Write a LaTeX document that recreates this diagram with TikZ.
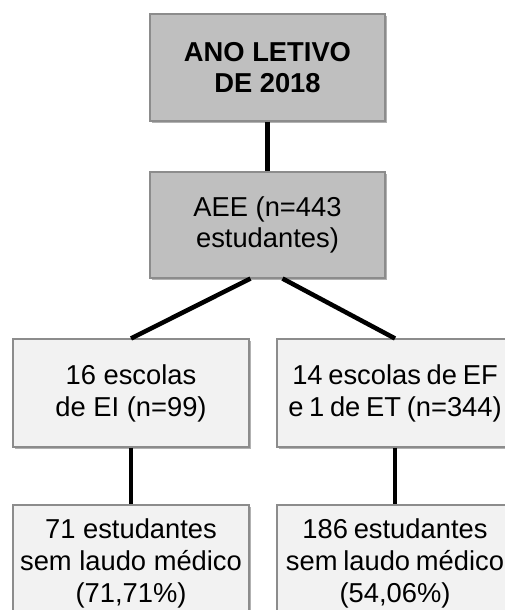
\documentclass[tikz,border=0pt]{standalone}
\usepackage{fontspec}
\setmainfont{Liberation Sans}
\newfontfamily\tightsans[WordSpace=0.75]{Liberation Sans}
\usetikzlibrary{shadows}
\definecolor{topfill}{HTML}{BFBFBF}
\definecolor{lowfill}{HTML}{F2F2F2}
\definecolor{edge}{HTML}{8C8C8C}
\tikzset{
  basebox/.style={draw=edge, line width=0.8pt, align=center,
    font=\fontsize{20.5}{24}\selectfont, inner sep=0pt,
    drop shadow={shadow xshift=1.2pt, shadow yshift=-1.2pt, opacity=0.3, fill=black}},
  darkbox/.style={basebox, fill=topfill, minimum width=176.25pt},
  lightbox/.style={basebox, fill=lowfill, minimum width=177pt},
  tightbox/.style={lightbox, font=\tightsans\fontsize{20.5}{24}\selectfont},
  link/.style={line width=3.4pt, black}
}
\begin{document}
\begin{tikzpicture}[x=0.75pt, y=-0.75pt]
\useasboundingbox (0,0) rectangle (504,610);
\node[darkbox, minimum height=80.25pt, font=\fontsize{20.5}{23.5}\selectfont\bfseries] (top) at (267.5,67.5) {ANO LETIVO\\DE 2018};
\node[darkbox, minimum height=79.5pt, font=\fontsize{20.5}{23.5}\selectfont] (aee) at (267.5,225) {AEE (n=443\\estudantes)};
\node[lightbox, minimum height=81pt] (ei) at (131,393) {16 escolas\\de EI (n=99)};
\node[tightbox, minimum height=81pt] (ef) at (395,393) {14 escolas de EF\\e 1 de ET (n=344)};
\node[lightbox, minimum height=87pt] (eires) at (131,563) {71 estudantes\\sem laudo médico\\(71,71\%)};
\node[tightbox, minimum height=87pt] (efres) at (395,563) {186 estudantes\\sem laudo médico\\(54,06\%)};
\draw[link] (top.south) -- (aee.north);
\draw[link] ([xshift=-12.75pt]aee.south) -- (ei.north);
\draw[link] ([xshift=11.25pt]aee.south) -- (ef.north);
\draw[link] (ei.south) -- (eires.north);
\draw[link] (ef.south) -- (efres.north);
\end{tikzpicture}
\end{document}
